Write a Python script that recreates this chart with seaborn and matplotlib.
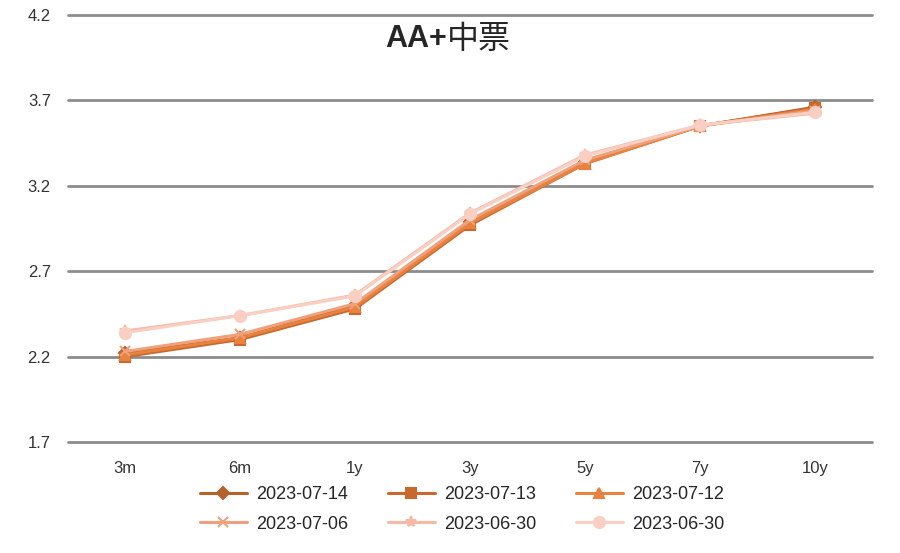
import numpy as np
import pandas as pd
import seaborn as sns
import matplotlib.pyplot as plt

sns.set_style("white")
plt.rcParams["font.family"] = ["Liberation Sans", "Noto Sans CJK SC", "DejaVu Sans"]

tenors = ["3m", "6m", "1y", "3y", "5y", "7y", "10y"]
labels = ["2023-07-14", "2023-07-13", "2023-07-12", "2023-07-06", "2023-06-30", "2023-06-30"]
d0714 = [2.22, 2.31, 2.50, 2.99, 3.34, 3.55, 3.66]
d0713 = [2.20, 2.30, 2.48, 2.97, 3.33, 3.55, 3.655]
d0712 = [2.21, 2.31, 2.49, 2.98, 3.33, 3.55, 3.65]
d0706 = [2.23, 2.33, 2.51, 3.00, 3.35, 3.55, 3.64]
d0630a = [2.35, 2.44, 2.56, 3.04, 3.38, 3.555, 3.625]
d0630b = [2.34, 2.44, 2.555, 3.035, 3.375, 3.555, 3.63]
series = [d0714, d0713, d0712, d0706, d0630a, d0630b]
colors = ["#B5612A", "#C8682D", "#E8823F", "#F0A07A", "#F5B9A6", "#F8CFC2"]
markers = ["D", "s", "^", "x", "*", "o"]
msizes = [6, 7, 7, 7, 8, 8]

fig = plt.figure(figsize=(9, 5.53), dpi=100)
ax = fig.add_axes([0.075, 0.2007, 0.8944, 0.7722])

for i, vals in enumerate(series):
    df = pd.DataFrame({"tenor": tenors, "y": vals})
    sns.lineplot(data=df, x="tenor", y="y", ax=ax, color=colors[i], marker=markers[i],
                 markersize=msizes[i], markeredgecolor=colors[i], markeredgewidth=1.5,
                 linewidth=2.2, label=labels[i], sort=False)

ax.set_xlim(-0.5, 6.5)
ax.set_ylim(1.7, 4.2)
ax.set_yticks([1.7, 2.2, 2.7, 3.2, 3.7, 4.2])
ax.set_yticklabels(["1.7", "2.2", "2.7", "3.2", "3.7", "4.2"])
ax.yaxis.grid(True, color="#8C8C8C", linewidth=2)
for gl in ax.get_ygridlines():
    gl.set_clip_on(False)
ax.set_axisbelow(True)
for s in ax.spines.values():
    s.set_visible(False)
ax.tick_params(axis="y", length=0, labelsize=12, colors="#333333", pad=12)
ax.tick_params(axis="x", length=0, labelsize=12, colors="#333333", pad=14)
ax.set_xlabel("")
ax.set_ylabel("")

fig.text(0.497, 0.93, "AA+", ha="right", va="center", fontsize=22, fontweight="bold",
         family=["Liberation Sans"])
fig.text(0.497, 0.93, "中票", ha="left", va="center", fontsize=23,
         family=["Noto Sans CJK SC"])

# legend in row-major order like the original
h, l = ax.get_legend_handles_labels()
order = [0, 3, 1, 4, 2, 5]
ax.legend([h[k] for k in order], [l[k] for k in order], loc="upper center",
          bbox_to_anchor=(0.49, -0.065), ncol=3, frameon=False,
          fontsize=13, handlelength=2.6, handletextpad=0.5, columnspacing=2.2,
          labelspacing=0.7)

fig.savefig("out.png", dpi=100)
